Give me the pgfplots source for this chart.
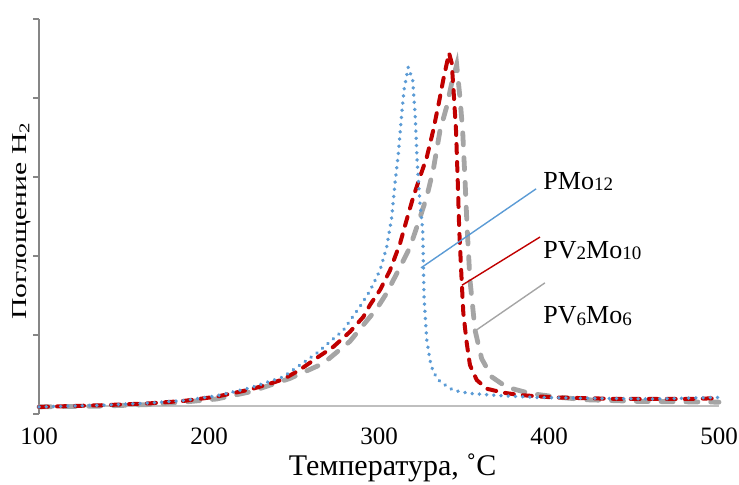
\documentclass[border=0pt]{standalone}
\usepackage{fontspec}
\setmainfont{Liberation Serif}
\usepackage{graphicx}
\usepackage{pgfplots}
\pgfplotsset{compat=1.18}
\definecolor{cblue}{HTML}{5B9BD5}
\definecolor{cred}{HTML}{C00000}
\definecolor{cgray}{HTML}{A5A5A5}
\definecolor{axgray}{HTML}{868686}
\definecolor{axlight}{HTML}{BFBFBF}
\newcommand{\sub}[1]{\raisebox{-0.6bp}{\fontsize{9.5bp}{10bp}\selectfont #1}}
\begin{document}
\begin{tikzpicture}
\begin{axis}[
  scale only axis, width=340bp, height=197.5bp,
  xmin=100, xmax=500, ymin=0, ymax=5,
  axis lines=left, axis line style={-},
  x axis line style={draw=none},
  y axis line style={axgray, line width=0.7bp},
  xtick={100,200,300,400,500}, xtick style={draw=none},
  ytick={0,1,2,3,4,5}, yticklabels={}, ytick style={axgray, line width=0.7bp},
  major tick length=3bp, tick align=outside,
  /pgf/number format/assume math mode=true,
  xticklabel style={font=\fontsize{12.5bp}{15bp}\selectfont, anchor=base, inner sep=0pt, yshift=-12bp},
  xlabel={Температура, ˚C},
  xlabel style={at={(rel axis cs:0.52,0)}, anchor=base, inner sep=0pt, yshift=-30.5bp, font=\fontsize{15bp}{18bp}\selectfont},
  ylabel={\scalebox{1.4}[1]{Поглощение H\textsubscript{2}}},
  ylabel style={at={(rel axis cs:-0.012,0.489)}, anchor=south, inner sep=0pt, font=\fontsize{10.6bp}{12bp}\selectfont},
  clip=false,
]
\draw[axlight, line width=0.8bp] (axis cs:100,0.1) -- (axis cs:500,0.1);
% PV6Mo6
\addplot[cgray, line width=2.4bp, line cap=round, dash pattern=on 6bp off 6.4bp] coordinates {
(100,0.09) (135.9,0.10) (165.3,0.12) (184.9,0.15) (204.5,0.19) (224.1,0.28)
(247.6,0.45) (267.2,0.64) (282.9,0.92) (292.8,1.18) (298.6,1.33) (304.5,1.53)
(312.4,1.86) (318.2,2.11) (323.1,2.42) (328.1,2.75) (331.9,3.09) (335.9,3.59)
(339.8,3.89) (342.8,4.19) (345.7,4.42) (347.6,4.01) (349.2,3.59) (350.6,2.96)
(351.9,2.33) (353.5,1.70) (356.5,1.06) (360.4,0.70) (366.3,0.47) (375.1,0.34)
(388.8,0.26) (406.5,0.21) (422.2,0.18) (451.6,0.16) (500,0.15)};
% PV2Mo10
\addplot[cred, line width=2bp, line cap=round, dash pattern=on 4.5bp off 4.5bp] coordinates {
(100,0.09) (135.9,0.11) (165.3,0.135) (184.9,0.165) (204.5,0.22) (224.1,0.31)
(233.9,0.37) (243.7,0.44) (253.5,0.56) (263.4,0.71) (273.1,0.85) (282.9,1.04)
(290.8,1.23) (294.7,1.38) (300.6,1.57) (306.5,1.82) (312.4,2.16) (316.3,2.46)
(320.2,2.75) (324.1,3.00) (328.1,3.25) (331.9,3.59) (335.5,3.97) (337.8,4.23)
(341.2,4.57) (342.8,4.44) (344.1,4.01) (345.3,3.59) (346.3,2.96) (347.2,2.33)
(348.6,1.70) (349.6,1.28) (351.6,0.90) (353.5,0.62) (357.5,0.43) (363.4,0.32)
(373.1,0.27) (382.9,0.24) (402.5,0.21) (441.8,0.19) (481.0,0.19) (500,0.20)};
% PMo12
\addplot[cblue, line width=1.9bp, line cap=round, dash pattern=on 0.01bp off 3.6bp] coordinates {
(100,0.09) (135.9,0.11) (165.3,0.14) (184.9,0.17) (204.5,0.23) (224.1,0.33)
(243.7,0.47) (263.4,0.77) (279.0,1.06) (288.8,1.36) (294.7,1.56) (300.6,1.82)
(304.5,2.11) (307.5,2.49) (309.4,2.92) (311.4,3.30) (313.4,3.81) (314.7,4.10)
(317.2,4.39) (319.8,4.23) (321.2,3.81) (322.5,3.18) (324.1,2.67) (325.7,2.33)
(326.1,1.91) (326.5,1.48) (327.3,1.20) (328.1,0.94) (330.0,0.68) (331.9,0.53)
(335.9,0.41) (343.7,0.30) (353.5,0.26) (373.1,0.23) (392.8,0.21) (422.2,0.20)
(461.4,0.19) (500,0.21)};
% leader lines and labels
\draw[cblue, line width=0.7bp] (axis cs:324.7,1.85) -- (axis cs:392.4,2.85);
\draw[cred, line width=0.7bp] (axis cs:348.8,1.63) -- (axis cs:394.7,2.24);
\draw[cgray, line width=0.7bp] (axis cs:357.1,1.06) -- (axis cs:397.6,1.66);
\node[anchor=base west, inner sep=0pt, font=\fontsize{13bp}{15bp}\selectfont] at (axis cs:396.5,2.84) {PMo\sub{12}};
\node[anchor=base west, inner sep=0pt, font=\fontsize{13bp}{15bp}\selectfont] at (axis cs:396.5,1.97) {PV\sub{2}Mo\sub{10}};
\node[anchor=base west, inner sep=0pt, font=\fontsize{13bp}{15bp}\selectfont] at (axis cs:396.5,1.14) {PV\sub{6}Mo\sub{6}};
\end{axis}
\pgfresetboundingbox
\path[use as bounding box] (-19.5bp,-35.5bp) rectangle (350bp,207bp);
\end{tikzpicture}
\end{document}
